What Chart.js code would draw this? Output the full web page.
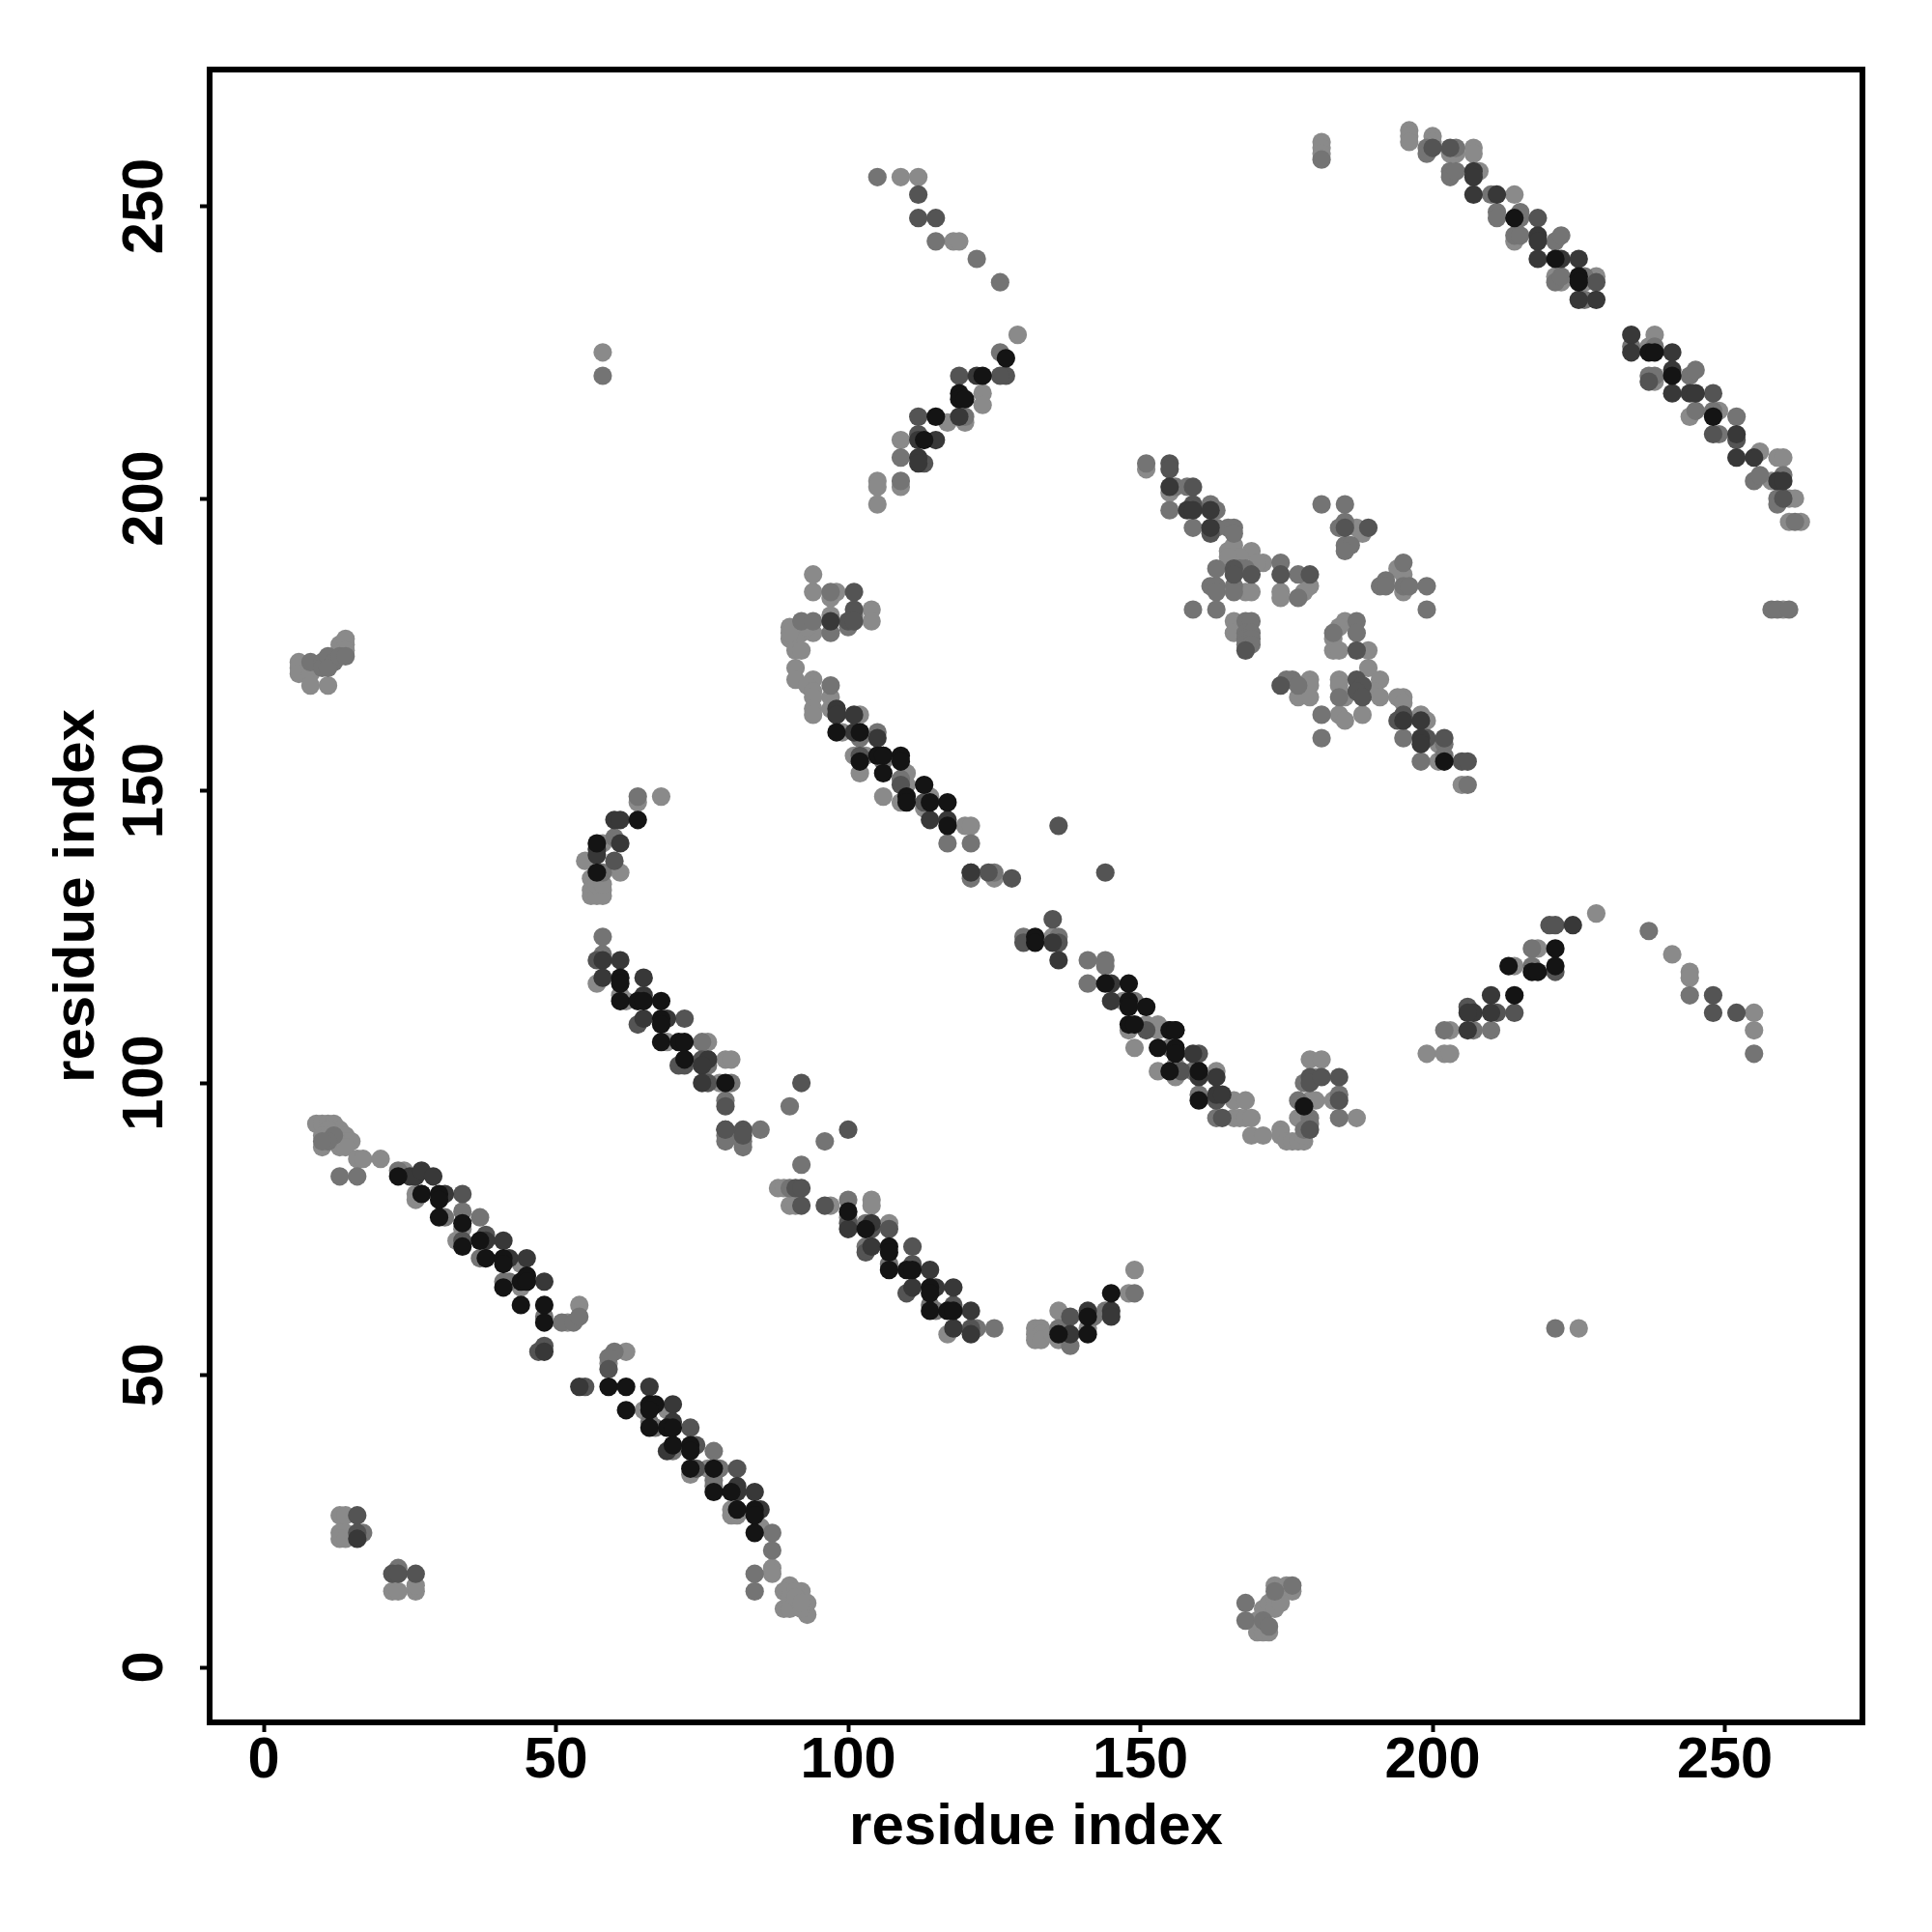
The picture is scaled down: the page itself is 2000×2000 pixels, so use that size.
<!DOCTYPE html>
<html><head><meta charset="utf-8">
<style>html,body{margin:0;padding:0;background:#fff}canvas{display:block}</style>
<script src="https://cdn.jsdelivr.net/npm/chart.js@4"></script>
</head><body><canvas id="c" width="2000" height="2000" style="width:2000px;height:2000px"></canvas>
<script>
const tickValues=[0,50,100,150,200,250];
const axisTitle="residue index";
const shadeBlack=[[23,84],[27,81],[30,81],[30,80],[30,77],[34,76],[34,72],[37,73],[38,70],[41,70],[41,69],[41,65],[44,66],[45,67],[45,66],[44,62],[48,62],[48,59],[59,48],[62,48],[62,44],[66,45],[67,45],[66,44],[66,41],[69,41],[70,41],[70,38],[73,38],[73,37],[73,34],[77,34],[77,30],[80,30],[81,27],[84,27],[84,26],[84,23],[61,118],[61,117],[61,114],[64,114],[65,114],[68,114],[68,111],[68,110],[68,107],[71,107],[72,107],[72,104],[79,100],[100,78],[103,75],[107,72],[107,71],[107,68],[110,68],[111,68],[114,65],[114,64],[114,61],[117,61],[118,61],[136,57],[141,60],[141,57],[145,64],[98,160],[102,160],[102,155],[105,156],[106,156],[109,156],[109,155],[106,153],[110,149],[110,148],[113,151],[114,148],[117,148],[117,144],[132,125],[132,124],[144,117],[148,117],[148,114],[148,113],[151,113],[148,110],[149,110],[155,109],[156,109],[153,106],[156,106],[156,105],[155,102],[160,102],[160,97],[64,145],[57,141],[57,136],[115,214],[119,218],[119,217],[120,217],[123,221],[127,224],[113,210],[202,155],[214,248],[221,241],[225,238],[225,237],[237,225],[238,225],[241,221],[248,214],[221,123],[213,120],[221,120],[217,119],[218,119],[214,115],[178,96]];
const shadeDark=[[25,84],[26,84],[27,85],[29,84],[31,81],[38,73],[41,73],[42,70],[45,70],[48,66],[48,54],[54,48],[66,48],[70,45],[70,42],[69,37],[84,30],[81,31],[81,30],[85,27],[58,121],[61,121],[58,118],[65,118],[65,115],[65,111],[69,111],[76,104],[75,103],[75,100],[100,75],[104,76],[104,72],[114,68],[111,65],[115,65],[118,65],[121,61],[118,58],[121,57],[138,57],[141,61],[145,61],[145,60],[98,164],[98,163],[101,163],[101,160],[105,159],[114,145],[117,145],[121,136],[135,124],[136,121],[145,117],[145,114],[159,105],[160,101],[163,101],[163,98],[164,98],[60,145],[61,145],[61,141],[57,140],[57,139],[112,210],[115,210],[112,207],[112,206],[119,214],[122,221],[155,202],[158,198],[159,198],[162,198],[162,195],[195,162],[198,162],[198,159],[198,158],[207,256],[207,255],[207,252],[211,252],[218,245],[218,244],[218,241],[222,241],[225,241],[225,234],[228,234],[234,228],[234,225],[241,225],[241,222],[241,218],[244,218],[245,218],[252,211],[252,207],[255,207],[259,203],[260,203],[224,127],[210,115],[210,112],[207,112],[206,112],[206,109],[16,22],[97,179]];
const shadeMid=[[48,55],[47,54],[55,48],[34,81],[38,74],[34,73],[74,38],[73,41],[81,34],[59,51],[74,34],[22,16],[23,16],[26,16],[16,26],[16,23],[57,121],[72,111],[71,103],[72,103],[75,104],[76,100],[64,110],[79,96],[79,92],[82,92],[82,91],[92,100],[100,92],[91,82],[92,82],[92,79],[96,79],[100,76],[104,75],[103,71],[107,75],[111,72],[110,64],[111,69],[118,62],[121,58],[138,60],[101,184],[101,181],[100,179],[101,179],[102,156],[109,151],[113,148],[124,136],[128,135],[130,124],[136,124],[144,136],[135,128],[136,144],[151,109],[160,105],[157,102],[163,97],[164,94],[179,92],[179,101],[179,100],[181,101],[184,101],[184,97],[60,138],[112,252],[112,248],[115,248],[112,214],[112,211],[113,206],[119,221],[127,221],[126,221],[155,206],[155,205],[159,202],[159,199],[162,194],[166,188],[169,187],[166,187],[174,187],[179,187],[168,174],[185,195],[189,195],[187,174],[187,169],[188,168],[187,167],[188,166],[174,168],[195,163],[194,162],[199,159],[202,159],[205,155],[206,155],[203,260],[200,260],[218,248],[248,218],[228,237],[252,210],[260,200],[248,211],[220,127],[221,127],[206,113],[214,112],[211,112],[221,119],[248,115],[248,112],[252,112],[237,220]];
const shadeGrey=[[23,85],[13,84],[16,84],[31,77],[34,78],[37,77],[37,70],[41,66],[42,66],[48,60],[51,59],[53,59],[54,60],[60,54],[59,53],[66,42],[67,41],[70,37],[77,37],[78,34],[77,32],[77,31],[87,23],[87,20],[84,16],[84,13],[17,23],[23,17],[58,125],[58,122],[75,107],[76,103],[80,100],[90,96],[79,97],[79,91],[79,90],[82,90],[82,89],[85,92],[96,90],[92,86],[90,82],[100,80],[103,76],[103,72],[107,69],[114,62],[115,61],[122,58],[125,58],[136,58],[137,57],[138,55],[142,60],[144,61],[149,64],[97,184],[101,180],[97,177],[100,178],[92,179],[94,179],[97,168],[105,160],[102,159],[106,155],[109,152],[117,141],[121,141],[121,135],[125,136],[130,125],[136,125],[141,121],[144,121],[144,120],[141,117],[149,114],[155,106],[159,102],[160,98],[163,94],[177,97],[178,100],[179,94],[179,93],[178,92],[184,98],[184,94],[64,149],[60,142],[58,136],[105,255],[115,244],[122,241],[126,237],[58,221],[181,258],[109,207],[109,203],[126,225],[120,214],[258,181],[259,181],[261,181],[151,206],[156,202],[158,202],[155,198],[162,199],[163,198],[159,195],[163,195],[165,195],[166,195],[166,194],[163,188],[167,188],[168,188],[174,189],[177,187],[162,185],[163,185],[163,184],[166,185],[166,184],[177,183],[159,181],[163,181],[168,179],[169,179],[168,177],[169,177],[168,176],[169,176],[168,175],[169,175],[181,199],[185,199],[185,196],[184,195],[185,192],[186,192],[185,191],[195,189],[192,186],[191,185],[192,185],[195,185],[196,185],[199,185],[199,181],[187,179],[183,177],[187,177],[175,169],[176,169],[177,168],[184,166],[181,163],[181,159],[195,159],[202,158],[198,155],[202,156],[206,151],[199,260],[199,259],[204,260],[203,256],[203,255],[204,256],[210,252],[211,249],[211,248],[215,249],[215,248],[214,245],[215,245],[221,244],[222,245],[221,237],[222,238],[226,238],[226,234],[234,226],[238,226],[237,221],[238,221],[244,221],[245,222],[245,215],[248,215],[252,214],[249,211],[255,203],[256,204],[260,204],[259,200],[259,199],[262,196],[217,123],[217,120],[207,109],[210,109],[202,109],[168,11],[168,8],[171,8],[172,7],[176,14],[173,13],[221,58],[237,126],[244,115],[255,105],[8,172],[10,172],[10,171],[11,173],[12,172],[11,171],[13,173],[14,173],[12,91],[11,90],[10,90]];
const shadeLight=[[9,93],[10,93],[11,93],[12,93],[13,92],[12,92],[11,92],[10,91],[11,91],[13,91],[14,91],[12,90],[14,90],[15,90],[10,89],[13,89],[14,89],[16,87],[17,87],[20,87],[24,85],[26,81],[26,80],[34,75],[33,73],[44,69],[44,65],[52,59],[54,62],[59,52],[62,54],[65,44],[69,44],[73,33],[76,34],[80,27],[80,26],[81,26],[85,24],[87,17],[87,16],[90,14],[89,13],[92,13],[89,10],[90,12],[91,13],[93,11],[93,9],[91,11],[90,10],[92,10],[91,12],[92,11],[13,26],[14,26],[13,23],[14,23],[13,22],[14,22],[22,13],[23,13],[26,13],[26,14],[57,117],[61,115],[62,114],[69,107],[76,107],[79,104],[80,104],[78,100],[88,82],[89,82],[90,79],[91,79],[97,79],[100,77],[104,80],[104,79],[107,76],[117,57],[132,58],[133,58],[132,57],[133,57],[132,56],[133,56],[135,57],[136,61],[136,56],[141,58],[148,64],[149,68],[94,187],[94,184],[98,184],[97,183],[104,181],[104,179],[97,180],[90,178],[94,177],[92,177],[90,176],[91,176],[91,174],[92,174],[93,178],[90,177],[91,171],[91,169],[94,169],[93,168],[94,167],[94,166],[94,164],[94,163],[97,166],[97,164],[99,160],[102,163],[101,156],[103,156],[102,153],[110,153],[110,151],[106,149],[109,148],[114,149],[113,147],[120,144],[121,144],[125,135],[135,125],[147,114],[148,109],[151,110],[153,110],[153,109],[149,106],[153,102],[156,103],[156,101],[163,102],[166,97],[168,97],[166,94],[167,94],[168,94],[169,94],[169,91],[171,91],[174,92],[174,91],[175,90],[176,90],[177,90],[178,90],[177,94],[178,91],[179,97],[180,97],[180,101],[179,104],[181,104],[183,97],[187,94],[68,149],[64,148],[58,141],[55,138],[61,136],[56,135],[56,133],[57,133],[58,133],[56,132],[57,132],[58,132],[57,134],[58,134],[109,255],[112,255],[118,244],[119,244],[129,228],[58,225],[181,261],[181,260],[181,259],[105,203],[105,202],[105,199],[109,210],[109,202],[117,213],[120,213],[123,218],[123,216],[260,181],[151,205],[155,201],[165,191],[166,192],[169,191],[167,190],[171,189],[170,189],[165,190],[168,184],[169,184],[174,184],[174,183],[178,184],[179,185],[166,179],[166,177],[187,195],[188,194],[194,188],[195,187],[195,184],[185,179],[184,178],[183,176],[183,174],[184,174],[189,174],[189,171],[191,169],[184,169],[184,168],[190,167],[191,166],[185,166],[179,169],[179,168],[177,166],[179,166],[184,163],[185,162],[188,163],[195,166],[194,166],[195,165],[198,163],[199,162],[201,158],[201,155],[205,151],[196,263],[196,262],[196,261],[200,262],[200,261],[203,259],[204,259],[207,260],[207,259],[208,256],[214,252],[214,244],[221,238],[222,237],[226,237],[228,238],[238,228],[237,226],[238,220],[244,214],[249,215],[256,208],[259,207],[260,207],[258,203],[261,200],[262,200],[261,196],[263,196],[228,129],[218,123],[214,120],[203,109],[199,105],[202,105],[203,105],[241,122],[244,119],[244,118],[255,112],[255,109],[225,58],[170,6],[171,6],[172,6],[170,8],[171,10],[172,11],[173,12],[173,14],[175,14],[176,13],[173,10],[174,11],[6,172],[6,171],[6,170],[8,171],[8,170],[8,168],[11,168],[13,174],[13,175],[14,175],[14,176],[14,174]];
const overDark=[[76,104],[121,136],[79,92],[118,58],[98,164],[98,163]];
const overBlack=[[27,81],[38,70],[45,67],[45,66],[81,27],[70,38],[72,104],[102,160],[106,156],[105,156],[155,109],[156,109],[156,106],[156,105],[160,102]];
const layers=[[shadeBlack,'#141414'],[shadeDark,'#383838'],[shadeMid,'#545454'],[shadeGrey,'#747474'],[shadeLight,'#8a8a8a'],[overDark,'#383838'],[overBlack,'#141414']];
const axisFont={family:'"Liberation Sans"',weight:'bold',size:59.5};
const titleFont={family:'"Liberation Sans"',weight:'bold',size:60};
const frame={id:'frame',afterDatasetsDraw(c){const a=c.chartArea,x=c.ctx;x.save();x.strokeStyle='#000';x.lineWidth=6;x.strokeRect(a.left,a.top,a.right-a.left,a.bottom-a.top);x.restore();}};
const keep=s=>{s.ticks=tickValues.map(v=>({value:v}));};
new Chart(document.getElementById('c'),{type:'scatter',
data:{datasets:layers.map(([pts,col])=>({data:pts.map(([x,y])=>({x,y})),backgroundColor:col,borderWidth:0,pointRadius:9.6,pointHoverRadius:9.6}))},
options:{responsive:false,animation:false,devicePixelRatio:1,events:[],
layout:{padding:{top:72,right:72,left:0,bottom:0}},
plugins:{legend:{display:false},tooltip:{enabled:false}},
scales:{
x:{type:'linear',min:-9.26,max:273.55,afterBuildTicks:keep,afterFit:s=>{s.height=217;},
 grid:{drawOnChartArea:false,drawTicks:true,tickLength:10,tickColor:'#000',tickWidth:4},border:{display:false},
 ticks:{color:'#000',font:axisFont,padding:-5,maxRotation:0,minRotation:0,autoSkip:false},
 title:{display:true,text:axisTitle,color:'#000',font:titleFont,padding:{top:0,bottom:72}}},
y:{type:'linear',min:-9.42,max:273.4,afterBuildTicks:keep,afterFit:s=>{s.width=217;},
 grid:{drawOnChartArea:false,drawTicks:true,tickLength:10,tickColor:'#000',tickWidth:4},border:{display:false},
 ticks:{color:'#000',font:axisFont,padding:6,minRotation:90,maxRotation:90,crossAlign:'center',autoSkip:false},
 title:{display:true,text:axisTitle,color:'#000',font:titleFont,padding:{top:44,bottom:0}}}
}},plugins:[frame]});
</script></body></html>
